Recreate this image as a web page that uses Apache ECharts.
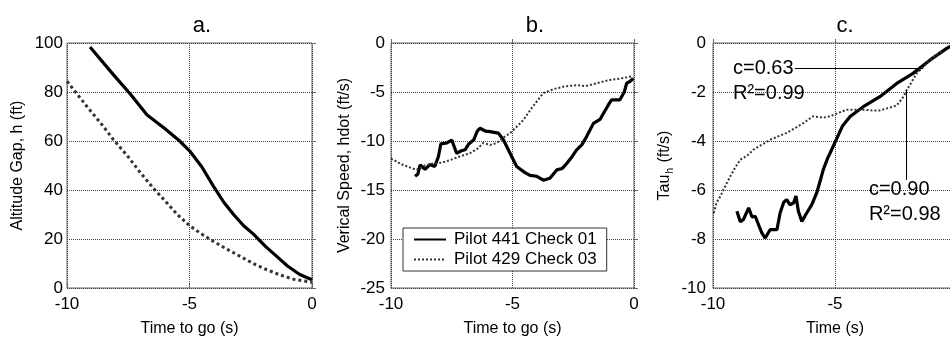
<!DOCTYPE html>
<html>
<head>
<meta charset="utf-8">
<script src="https://cdn.jsdelivr.net/npm/echarts@6/dist/echarts.min.js"></script>
<style>
  html, body { margin: 0; padding: 0; background: #fff; }
  #chart { width: 950px; height: 337px; }
</style>
</head>
<body>
<div id="chart"></div>
<script>
// 数据 a: 高度差
var aSolid = [[-9.06, 98.4], [-8.1, 87], [-7.4, 79], [-6.74, 70.7], [-6, 65], [-5.4, 60], [-5, 56],
  [-4.5, 49.5], [-4.02, 41.5], [-3.6, 35], [-3.2, 30], [-2.8, 25.5], [-2.39, 22], [-1.9, 17],
  [-1.44, 12.9], [-1, 9], [-0.5, 5.5], [0, 3.4]]
var aDotted = [[-10, 84.4], [-9.18, 74], [-8.6, 67], [-8.1, 60.5], [-7.5, 53.5], [-7, 47], [-6.5, 41],
  [-5.92, 34.7], [-5.5, 30], [-4.97, 25.2], [-4.5, 22], [-4.02, 19], [-3.5, 16], [-2.93, 12.9],
  [-2.4, 10], [-1.85, 7.5], [-1.3, 5.3], [-0.76, 3.6], [0, 2.3]]

// 数据 b: 垂直速度
var bSolid = [[-9.01, -13.6], [-8.9, -13.4], [-8.8, -12.45], [-8.6, -12.9], [-8.4, -12.4], [-8.2, -12.6],
  [-8.05, -11.6], [-7.95, -10.3], [-7.9, -10.1], [-7.7, -10.2], [-7.5, -9.9], [-7.3, -11.25],
  [-7.1, -11.0], [-6.95, -10.9], [-6.8, -10.3], [-6.6, -9.9], [-6.45, -9.0], [-6.34, -8.7],
  [-6.1, -9.0], [-5.93, -9.05], [-5.58, -9.2], [-5.37, -9.9], [-5.1, -11.25], [-4.83, -12.6],
  [-4.5, -13.2], [-4.28, -13.5], [-4.0, -13.6], [-3.73, -14.0], [-3.46, -13.8], [-3.18, -12.95],
  [-2.95, -12.8], [-2.77, -12.3], [-2.55, -11.6], [-2.36, -10.9], [-2.15, -10.4], [-1.95, -9.55],
  [-1.67, -8.2], [-1.4, -7.8], [-1.26, -7.2], [-1.05, -6.3], [-0.92, -5.8], [-0.58, -5.8],
  [-0.4, -5.0], [-0.3, -4.1], [-0.15, -3.9], [-0.03, -3.6]]
var bDotted = [[-10, -11.8], [-9.5, -12.45], [-8.95, -12.95], [-8.6, -12.5], [-8.26, -12.3], [-7.9, -12.2],
  [-7.57, -11.95], [-7.2, -11.6], [-6.75, -11.25], [-6.45, -10.8], [-6.2, -10.2], [-5.9, -10.4],
  [-5.65, -10.2], [-5.4, -9.7], [-5.1, -9.2], [-4.85, -8.6], [-4.55, -7.85], [-4.2, -6.6],
  [-3.95, -5.8], [-3.73, -5.1], [-3.3, -4.7], [-2.9, -4.45], [-2.36, -4.3], [-2.0, -4.4],
  [-1.53, -4.1], [-0.99, -3.77], [-0.5, -3.6], [-0.1, -3.4]]

// 数据 c: Tau
var cSolid = [[-9.02, -6.87], [-8.88, -7.3], [-8.75, -7.2], [-8.54, -6.73], [-8.4, -7.1], [-8.27, -7.07],
  [-8.1, -7.5], [-8.0, -7.75], [-7.86, -7.96], [-7.66, -7.62], [-7.38, -7.62], [-7.25, -6.94],
  [-7.1, -6.5], [-6.98, -6.39], [-6.85, -6.6], [-6.7, -6.53], [-6.6, -6.25], [-6.5, -6.87],
  [-6.36, -7.28], [-6.16, -6.94], [-5.95, -6.6], [-5.75, -6.12], [-5.6, -5.6], [-5.48, -5.17],
  [-5.3, -4.7], [-5.2, -4.49], [-4.93, -3.9], [-4.7, -3.4], [-4.38, -3.0], [-3.84, -2.6],
  [-3.16, -2.19], [-2.47, -1.65], [-1.8, -1.24], [-1.1, -0.69], [-0.42, -0.22], [-0.2, -0.1]]
var cDotted = [[-9.97, -6.94], [-9.85, -6.5], [-9.7, -6.26], [-9.5, -5.85], [-9.29, -5.44], [-9.1, -5.1],
  [-8.88, -4.76], [-8.6, -4.6], [-8.34, -4.35], [-8.0, -4.15], [-7.66, -3.95], [-7.3, -3.8],
  [-6.98, -3.67], [-6.6, -3.45], [-6.3, -3.27], [-5.89, -2.99], [-5.5, -3.05], [-5.2, -2.99],
  [-4.85, -2.85], [-4.52, -2.72], [-4.2, -2.72], [-3.84, -2.72], [-3.5, -2.75], [-3.16, -2.75],
  [-2.8, -2.65], [-2.47, -2.55], [-2.2, -2.2], [-2.06, -1.92], [-1.65, -1.24], [-1.1, -0.69], [-0.6, -0.3]]

// 标注 c
var fitLines = [
  [[-6.64, -1.02], [-1.39, -1.02]],
  [[-2.09, -1.92], [-2.09, -5.59]]
]
var fitLabels = [
  {coord: [-9.18, -1.55], text: 'c=0.63\nR²=0.99'},
  {coord: [-3.61, -6.47], text: 'c=0.90\nR²=0.98'}
]

var names = ['Pilot 441 Check 01', 'Pilot 429 Check 03']
var titles = ['a.', 'b.', 'c.']

var font = 'Liberation Sans, Arial, sans-serif'

var myChart = echarts.init(document.getElementById('chart'))

function xAxisOf(i, name) {
  return {
    gridIndex: i,
    type: 'value',
    min: -10,
    max: 0,
    interval: 5,
    name: name,
    nameLocation: 'middle',
    nameGap: 33,
    nameTextStyle: {fontFamily: font, fontSize: 16, color: '#000'},
    axisLine: {show: false},
    axisTick: {show: true, inside: true, length: 4, lineStyle: {color: '#666'}},
    axisLabel: {fontFamily: font, fontSize: 17, color: '#000', margin: 8},
    splitLine: {show: true, lineStyle: {type: 'dotted', color: '#444', width: 1}}
  }
}

function yAxisOf(i, name, min, max, interval, gap, margin, rich) {
  var ax = {
    gridIndex: i,
    type: 'value',
    min: min,
    max: max,
    interval: interval,
    name: name,
    nameLocation: 'middle',
    nameRotate: 90,
    nameGap: gap,
    nameTextStyle: {fontFamily: font, fontSize: 16, color: '#000'},
    axisLine: {show: false},
    axisTick: {show: true, inside: true, length: 4, lineStyle: {color: '#666'}},
    axisLabel: {fontFamily: font, fontSize: 17, color: '#000', margin: margin},
    splitLine: {show: true, lineStyle: {type: 'dotted', color: '#444', width: 1}}
  }
  if (rich) ax.nameTextStyle.rich = rich
  return ax
}

function solid(i, data) {
  return {
    name: names[0], type: 'line', xAxisIndex: i, yAxisIndex: i, data: data,
    symbol: 'none', smooth: false, color: '#000',
    lineStyle: {color: '#000', width: 3.2, type: 'solid'}
  }
}

function dotted(i, data, w) {
  return {
    name: names[1], type: 'line', xAxisIndex: i, yAxisIndex: i, data: data,
    symbol: 'none', smooth: false, color: '#333',
    lineStyle: {color: '#333', width: w, type: 'dotted'}
  }
}

var cSolidSeries = solid(2, cSolid)
cSolidSeries.markLine = {
  silent: true,
  symbol: 'none',
  lineStyle: {color: '#000', width: 1, type: 'solid'},
  label: {show: false},
  data: fitLines.map(function (l) {
    return [{coord: l[0]}, {coord: l[1]}]
  })
}
cSolidSeries.markPoint = {
  silent: true,
  symbol: 'circle',
  symbolSize: 0,
  label: {
    show: true, position: 'right', distance: 0, align: 'left',
    fontFamily: font, fontSize: 20, lineHeight: 25, color: '#000',
    formatter: function (p) { return p.data.text }
  },
  data: fitLabels.map(function (f) {
    return {coord: f.coord, text: f.text}
  })
}

var titleStyle = {fontFamily: font, fontSize: 22, fontWeight: 'normal', color: '#000'}

var option = {
  animation: false,
  backgroundColor: '#fff',
  title: [
    {text: titles[0], left: 197, top: 10, textAlign: 'center', textStyle: titleStyle},
    {text: titles[1], left: 530, top: 10, textAlign: 'center', textStyle: titleStyle},
    {text: titles[2], left: 840, top: 10, textAlign: 'center', textStyle: titleStyle}
  ],
  legend: {
    data: names,
    orient: 'vertical',
    left: 403,
    top: 228,
    width: 209,
    padding: [3, 10, 3, 10],
    itemGap: 3,
    itemWidth: 32,
    itemHeight: 14,
    itemStyle: {opacity: 0},
    backgroundColor: '#fff',
    borderColor: '#333',
    borderWidth: 1,
    borderRadius: 0,
    textStyle: {fontFamily: font, fontSize: 17, color: '#000', padding: [0, 0, 0, 3]}
  },
  grid: [
    {left: 67, right: 638, top: 43, bottom: 49, show: true, borderColor: '#666', borderWidth: 1, backgroundColor: 'transparent', outerBoundsMode: 'none'},
    {left: 391, right: 316, top: 43, bottom: 49, show: true, borderColor: '#666', borderWidth: 1, backgroundColor: 'transparent', outerBoundsMode: 'none'},
    {left: 713, right: -7, top: 43, bottom: 49, show: true, borderColor: '#666', borderWidth: 1, backgroundColor: 'transparent', outerBoundsMode: 'none'}
  ],
  xAxis: [
    xAxisOf(0, 'Time to go (s)'),
    xAxisOf(1, 'Time to go (s)'),
    xAxisOf(2, 'Time (s)')
  ],
  yAxis: [
    yAxisOf(0, 'Altitude Gap, h (ft)', 0, 100, 20, 41, 4),
    yAxisOf(1, 'Verical Speed, hdot (ft/s)', -25, 0, 5, 38, 6),
    yAxisOf(2, '{n|Tau}{s|h}{n| (ft/s)}', -10, 0, 2, 38, 7, {
      n: {fontFamily: font, fontSize: 16, color: '#000'},
      s: {fontFamily: font, fontSize: 10, color: '#000', verticalAlign: 'bottom', padding: [10, 1, 0, 1]}
    })
  ],
  series: [
    solid(0, aSolid),
    dotted(0, aDotted, 3),
    solid(1, bSolid),
    dotted(1, bDotted, 2),
    cSolidSeries,
    dotted(2, cDotted, 2)
  ]
}

myChart.setOption(option)

window.addEventListener('resize', function () {
  myChart.resize()
})
</script>
</body>
</html>
